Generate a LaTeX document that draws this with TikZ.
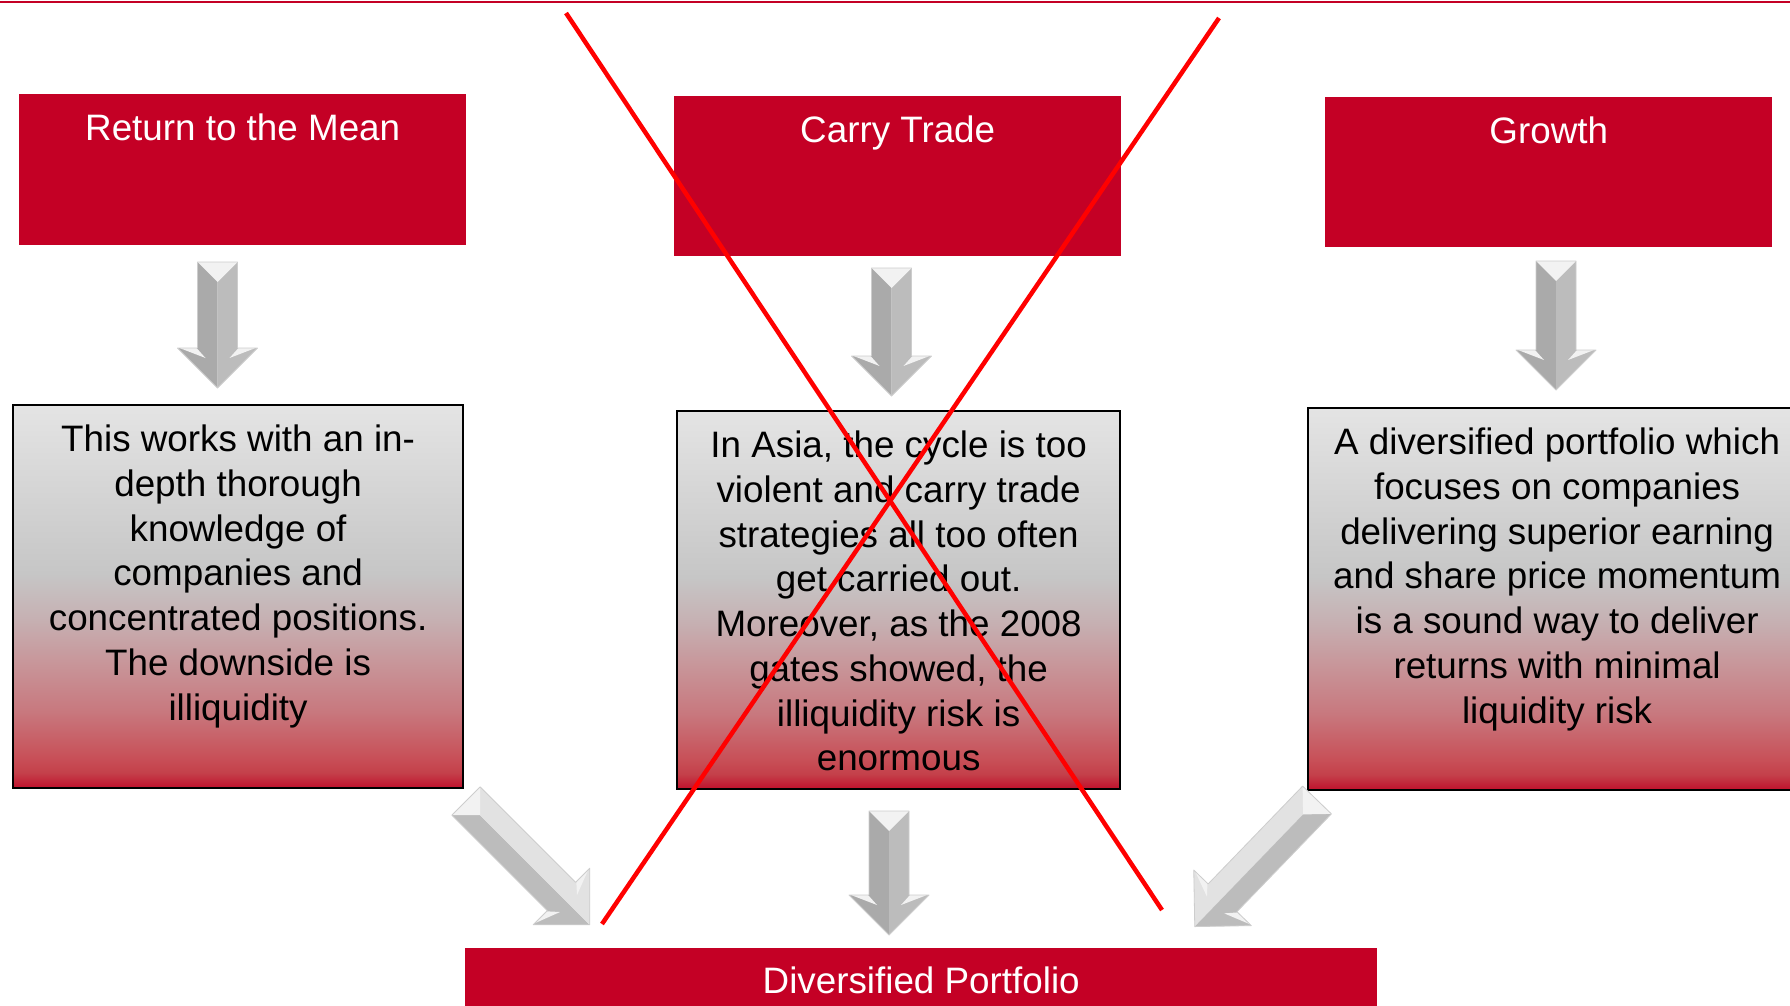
\documentclass[tikz,border=0pt]{standalone}
\usepackage{fontspec}
\setmainfont{Liberation Sans}
\usetikzlibrary{calc}

\definecolor{boxred}{RGB}{196,0,37}
\definecolor{crossred}{RGB}{255,0,0}
\definecolor{arrowdark}{RGB}{170,170,170}
\definecolor{arrowmid}{RGB}{188,188,188}
\definecolor{arrowlight}{RGB}{226,226,226}
\definecolor{arrowbevel}{RGB}{242,242,242}
\definecolor{arrowedgecol}{RGB}{205,205,205}
\definecolor{shadeA}{RGB}{192,16,44}
\definecolor{shadeB}{RGB}{196,64,74}
\definecolor{shadeC}{RGB}{200,80,88}
\definecolor{shadeD}{RGB}{200,120,126}
\definecolor{shadeE}{RGB}{200,148,152}
\definecolor{shadeF}{RGB}{198,176,178}
\definecolor{shadeG}{RGB}{198,198,198}
\definecolor{shadeH}{RGB}{228,228,228}
\pgfdeclareverticalshading{bodyshade}{100bp}{color(0bp)=(shadeA); color(25bp)=(shadeA);
  color(27bp)=(shadeB); color(29bp)=(shadeC); color(35bp)=(shadeD); color(41bp)=(shadeE);
  color(47bp)=(shadeF); color(53bp)=(shadeG); color(75bp)=(shadeH); color(100bp)=(shadeH)}

\newcommand{\slidefont}{\fontsize{36.8}{44.7}\selectfont}

% grey block arrow: tail, angle, length, colour of one face, colour of the other
\newcommand{\blockarrow}[5]{%
  \begin{scope}[shift={#1}, rotate=#2]
    \fill[#4] (0,0) -- (0,20) -- ({#3-40},20) -- ({#3-40},40) -- (#3,0) -- cycle;
    \fill[#5] (0,0) -- (0,-20) -- ({#3-40},-20) -- ({#3-40},-40) -- (#3,0) -- cycle;
    \fill[arrowbevel] (0,20) -- (20,0) -- (0,-20) -- cycle;
    \fill[arrowbevel] ({#3-40},38) -- ({#3-40},21) -- ({#3-30},12) -- cycle;
    \fill[arrowbevel] ({#3-40},-38) -- ({#3-40},-21) -- ({#3-30},-12) -- cycle;
    \draw[arrowedge] (0,20) -- ({#3-40},20) -- ({#3-40},40) -- (#3,0) -- ({#3-40},-40) -- ({#3-40},-20) -- (0,-20) -- cycle;
  \end{scope}}

\tikzset{
  titlebox/.style={fill=boxred, text=white, font=\slidefont, inner sep=0pt, anchor=north west, text height=46pt},
  bodybox/.style={draw=black, line width=2.2pt, shading=bodyshade, anchor=north west, inner sep=0pt},
  bodytext/.style={font=\slidefont, align=center, inner sep=0pt, anchor=north},
  crossline/.style={draw=crossred, line width=4.5pt},
  arrowedge/.style={draw=arrowedgecol, line width=0.8pt, line join=round}
}

\begin{document}
\begin{tikzpicture}[x=1pt, y=-1pt]
\useasboundingbox (0,0) rectangle (1790,1006);
\clip (0,0) rectangle (1790,1006);
\fill[white] (0,0) rectangle (1790,1006);
\draw[boxred, line width=2pt] (0,2) -- (1790,2);

\node[titlebox, minimum width=447pt, text depth=105pt] (mean) at (19,94) {Return to the Mean};
\node[titlebox, minimum width=447pt, text depth=114pt] (carry) at (674,96) {Carry Trade};
\node[titlebox, minimum width=447pt, text depth=104pt] (growth) at (1325,97) {Growth};

\node[bodybox, minimum width=450pt, minimum height=383pt] (meanbox) at (12,404) {};
\node[bodybox, minimum width=443pt, minimum height=378pt] (carrybox) at (676,410) {};
\node[bodybox, minimum width=498pt, minimum height=382pt] (growthbox) at (1307,407) {};

\node[bodytext] (meantext) at ($(meanbox.north)+(0,21)$) {This works with an in-\\depth thorough\\knowledge of\\companies and\\concentrated positions.\\The downside is\\illiquidity};
\node[bodytext] (carrytext) at ($(carrybox.north)+(0,21)$) {In Asia, the cycle is too\\violent and carry trade\\strategies all too often\\get carried out.\\Moreover, as the 2008\\gates showed, the\\illiquidity risk is\\enormous};
\node[bodytext] (growthtext) at ($(growthbox.north)+(0,21)$) {A diversified portfolio which\\focuses on companies\\delivering superior earning\\and share price momentum\\is a sound way to deliver\\returns with minimal\\liquidity risk};

\node[titlebox, minimum width=912pt, text height=45pt, text depth=30pt] (portfolio) at (465,948) {Diversified Portfolio};

\blockarrow{(217.5,262)}{-90}{126}{arrowdark}{arrowmid}
\blockarrow{(891.5,268)}{-90}{128}{arrowdark}{arrowmid}
\blockarrow{(1556,261)}{-90}{129}{arrowdark}{arrowmid}
\blockarrow{(889,811)}{-90}{124}{arrowdark}{arrowmid}
\blockarrow{(466,801)}{-45}{175}{arrowmid}{arrowlight}
\blockarrow{(1317,800)}{-134}{176}{arrowlight}{arrowmid}

\draw[crossline] (566,13) -- (1162,910);
\draw[crossline] (1219,18) -- (602,924);
\end{tikzpicture}
\end{document}
